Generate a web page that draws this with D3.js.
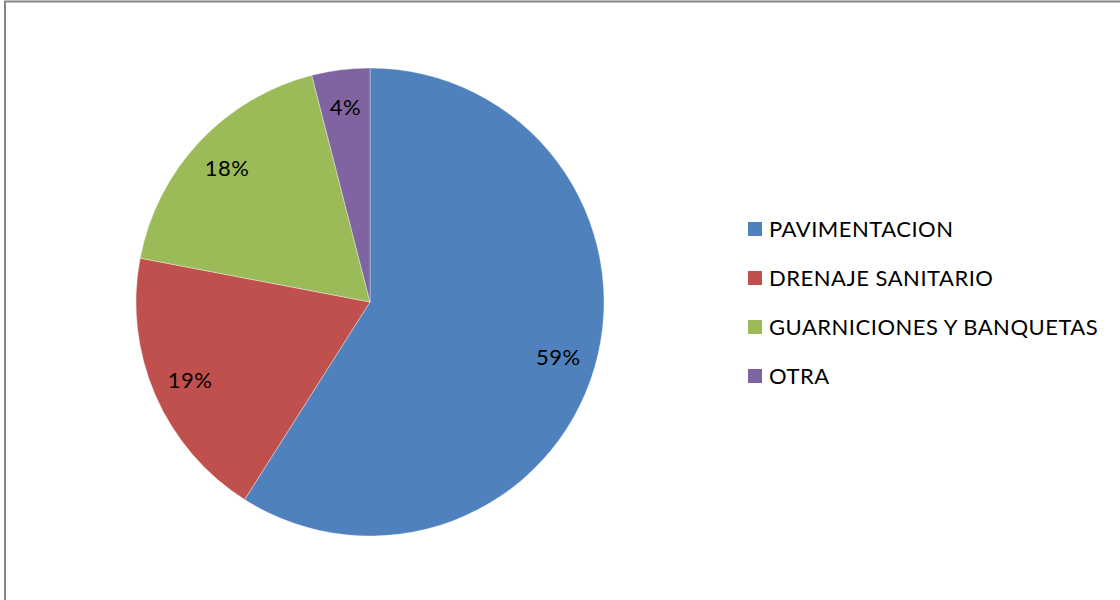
<!DOCTYPE html>
<html>
<head>
<meta charset="utf-8">
<script src="https://cdn.jsdelivr.net/npm/d3@7"></script>
<style>
  body { margin: 0; background: #fff; }
  svg { display: block; font-family: Lato, "Open Sans", sans-serif; }
</style>
</head>
<body>
<script>
// Data
const categories = ["PAVIMENTACION", "DRENAJE SANITARIO", "GUARNICIONES Y BANQUETAS", "OTRA"];
const percents = [59, 19, 18, 4];
const colors = ["#4F81BD", "#C0504D", "#9BBB59", "#8064A2"];

const width = 1120, height = 600;
const svg = d3.select("body").append("svg").attr("width", width).attr("height", height);

// chart frame (only top and left edges fall inside the picture)
svg.append("rect")
  .attr("x", 5).attr("y", 1.5)
  .attr("width", width + 20).attr("height", height + 20)
  .attr("fill", "none").attr("stroke", "#868686").attr("stroke-width", 2);

const cx = 370, cy = 302, radius = 234;

const pie = d3.pie().sort(null).value(d => d);
const arc = d3.arc().innerRadius(0).outerRadius(radius);
const labelArc = d3.arc().innerRadius(196).outerRadius(196);

const g = svg.append("g").attr("transform", "translate(" + cx + "," + cy + ")");
const slices = pie(percents);

g.selectAll("path")
  .data(slices)
  .enter()
  .append("path")
  .attr("d", arc)
  .attr("fill", (d, i) => colors[i])
  .attr("stroke", "rgba(255,255,255,0.35)")
  .attr("stroke-width", 1);

g.selectAll("text")
  .data(slices)
  .enter()
  .append("text")
  .attr("transform", d => "translate(" + labelArc.centroid(d) + ")")
  .attr("text-anchor", "middle")
  .attr("dy", "0.36em")
  .attr("font-size", 22)
  .attr("letter-spacing", 0.5)
  .attr("fill", "#000")
  .text(d => d.data + "%");

// Legend
const legendY = d3.scalePoint().domain(categories).range([229, 376]);
const legend = svg.append("g");
const items = legend.selectAll("g")
  .data(categories)
  .enter()
  .append("g")
  .attr("transform", d => "translate(748," + legendY(d) + ")");

items.append("rect")
  .attr("x", 0).attr("y", -7)
  .attr("width", 14).attr("height", 14)
  .attr("fill", (d, i) => colors[i]);

items.append("text")
  .attr("x", 21)
  .attr("dy", "0.36em")
  .attr("font-size", 22)
  .attr("letter-spacing", 0.5)
  .attr("fill", "#000")
  .text(d => d);
</script>
</body>
</html>
